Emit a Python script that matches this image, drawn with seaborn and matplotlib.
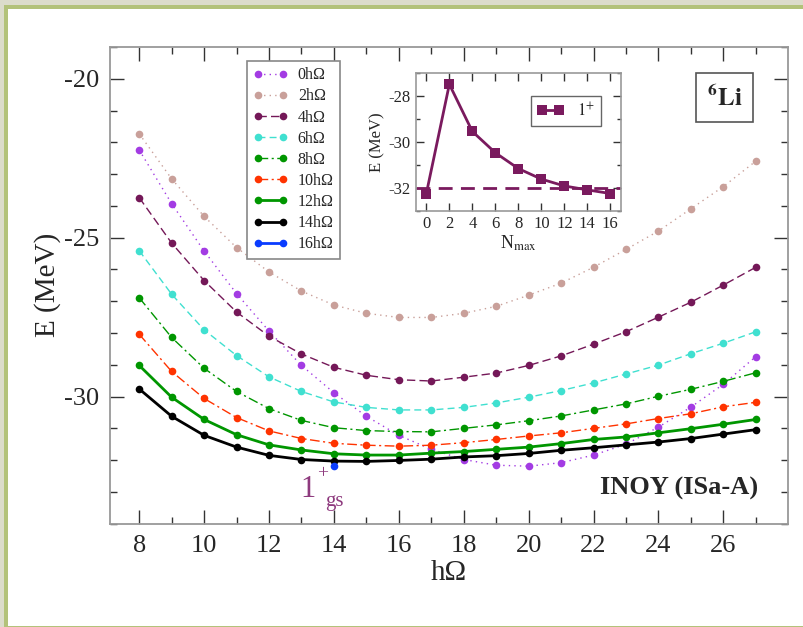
import numpy as np
import pandas as pd
import matplotlib
matplotlib.use("Agg")
import matplotlib.pyplot as plt
import seaborn as sns
from matplotlib.patches import Rectangle
from matplotlib.ticker import MultipleLocator, FixedLocator

# ---------------- data ----------------
hw = [8, 9, 10, 11, 12, 13, 14, 15, 16, 17, 18, 19, 20, 21, 22, 23, 24, 25, 26, 27]

e_0 = [-22.24, -23.93, -25.42, -26.76, -27.94, -29.02, -29.88, -30.62, -31.22, -31.66,
       -31.98, -32.16, -32.19, -32.08, -31.84, -31.50, -30.96, -30.33, -29.61, -28.74]
e_2 = [-21.73, -23.15, -24.33, -25.31, -26.08, -26.68, -27.12, -27.38, -27.51, -27.51,
       -27.38, -27.16, -26.81, -26.43, -25.93, -25.37, -24.79, -24.09, -23.39, -22.59]
e_4 = [-23.74, -25.17, -26.35, -27.34, -28.10, -28.66, -29.08, -29.33, -29.47, -29.51,
       -29.39, -29.26, -29.02, -28.72, -28.35, -27.96, -27.50, -27.03, -26.49, -25.93]
e_6 = [-25.41, -26.78, -27.90, -28.71, -29.38, -29.84, -30.17, -30.34, -30.42, -30.42,
       -30.34, -30.20, -30.02, -29.81, -29.57, -29.29, -29.01, -28.65, -28.32, -27.96]
e_8 = [-26.89, -28.14, -29.11, -29.84, -30.38, -30.75, -30.98, -31.07, -31.10, -31.11,
       -31.00, -30.89, -30.76, -30.61, -30.42, -30.23, -29.99, -29.77, -29.52, -29.25]
e_10 = [-28.04, -29.21, -30.06, -30.66, -31.08, -31.32, -31.47, -31.53, -31.56, -31.53,
        -31.45, -31.35, -31.24, -31.14, -31.00, -30.86, -30.69, -30.54, -30.32, -30.18]
e_12 = [-29.02, -30.02, -30.72, -31.20, -31.52, -31.68, -31.80, -31.84, -31.84, -31.78,
        -31.73, -31.66, -31.59, -31.48, -31.35, -31.27, -31.14, -31.01, -30.87, -30.72]
e_14 = [-29.76, -30.62, -31.22, -31.59, -31.85, -31.98, -32.03, -32.04, -32.01, -31.97,
        -31.90, -31.86, -31.79, -31.69, -31.61, -31.52, -31.43, -31.32, -31.18, -31.04]
hw_16 = [14]
e_16 = [-32.19]

series_labels = ["0hΩ", "2hΩ", "4hΩ", "6hΩ", "8hΩ", "10hΩ", "12hΩ", "14hΩ", "16hΩ"]
x_ticks = [8, 10, 12, 14, 16, 18, 20, 22, 24, 26]

nmax = [0, 2, 4, 6, 8, 10, 12, 14, 16]
e_gs = [-32.25, -27.48, -29.54, -30.47, -31.16, -31.62, -31.92, -32.09, -32.25]
e_extrap = -32.0

# ---------------- style ----------------
sns.set_style("ticks")
plt.rcParams["font.family"] = ["Liberation Serif", "DejaVu Serif"]
plt.rcParams["mathtext.fontset"] = "stix"
plt.rcParams["axes.unicode_minus"] = False

W, H = 804, 627
fig = plt.figure(figsize=(W / 100, H / 100), dpi=100)
fig.patch.set_facecolor("#dcdccb")
fig.patches.append(Rectangle((4 / W, 0), 1, 1 - 5 / H, transform=fig.transFigure,
                             facecolor="#b3c27a", edgecolor="none", zorder=-10))
fig.patches.append(Rectangle((8 / W, 1 / H), 1, 1 - 10 / H, transform=fig.transFigure,
                             facecolor="white", edgecolor="none", zorder=-9))

ax = fig.add_axes([110 / W, 1 - 523.7 / H, (788.3 - 110) / W, (523.7 - 47) / H])
ax.set_facecolor("white")

styles = [
    (e_0, "#a33ce3", (0, (1, 3)), 1.0),
    (e_2, "#c9a09a", (0, (1, 3)), 1.0),
    (e_4, "#741858", (0, (6, 3)), 1.0),
    (e_6, "#40e0d0", (0, (5, 3)), 1.0),
    (e_8, "#009600", (0, (7, 2.5, 1.5, 2.5)), 1.0),
    (e_10, "#ff3300", (0, (7, 2.5, 1.5, 2.5)), 1.0),
    (e_12, "#009600", "-", 2.0),
]
for (vals, col, ls, lw), lab in zip(styles, series_labels[:7]):
    sns.lineplot(x=hw, y=vals, ax=ax, color=col, linestyle=ls, linewidth=lw,
                 marker="o", markersize=5.5, markeredgewidth=0, label=lab)
sns.lineplot(x=hw, y=e_14, ax=ax, color="black", linestyle="-", linewidth=2.0,
             marker="o", markersize=5.5, markeredgewidth=0, label=series_labels[7])
sns.lineplot(x=hw_16, y=e_16, ax=ax, color="#0a3cff", linestyle="-", linewidth=2.0,
             marker="o", markersize=5.5, markeredgewidth=0, label=series_labels[8])

ax.set_xlim(7.1, 28.0)
ax.set_ylim(-34.0, -19.0)
ax.xaxis.set_major_locator(FixedLocator(x_ticks))
ax.xaxis.set_minor_locator(FixedLocator([t + 1 for t in x_ticks]))
ax.yaxis.set_major_locator(MultipleLocator(5))
ax.yaxis.set_minor_locator(MultipleLocator(1))
ax.tick_params(which="both", direction="in", top=True, right=True, color="#333333",
               width=1.0, labelsize=19, pad=8)
ax.tick_params(which="major", length=10)
ax.tick_params(which="minor", length=5)
for s in ax.spines.values():
    s.set_color("#999999")
    s.set_linewidth(1.3)
ax.set_xlabel("hΩ", fontsize=21, labelpad=2)
ax.set_ylabel("E (MeV)", fontsize=21, labelpad=2)

leg = ax.legend(loc="upper left", bbox_to_anchor=(246.7 / W, 1 - 61 / H),
                bbox_transform=fig.transFigure, fontsize=11.5, numpoints=2,
                handlelength=2.2, handletextpad=0.6, labelspacing=0.32,
                borderpad=0.4, borderaxespad=0, fancybox=False, framealpha=1,
                edgecolor="#888888")
leg.get_frame().set_linewidth(1.2)

fig.text(600 / W, 1 - 488 / H, "INOY (ISa-A)", fontsize=19, fontweight="bold",
         ha="left", va="center")
gs_col = "#8e3a7e"
fig.text(300 / W, 1 - 497 / H, "1", fontsize=22, color=gs_col, ha="left", va="baseline")
fig.text(317 / W, 1 - 474 / H, "+", fontsize=14, color=gs_col, ha="left", va="center")
fig.text(325 / W, 1 - 506 / H, "gs", fontsize=15, color=gs_col, ha="left", va="baseline")
fig.text(724.5 / W, 1 - 97.5 / H, r"$\mathbf{{}^{6}Li}$", fontsize=18,
         ha="center", va="center",
         bbox=dict(boxstyle="square,pad=0.45", facecolor="white", edgecolor="#555555",
                   linewidth=1.2))

# ---------------- inset ----------------
ins = fig.add_axes([416 / W, 1 - 210.7 / H, (620.7 - 416) / W, (210.7 - 73.3) / H])
ins.set_facecolor("white")
maroon = "#7a1a5e"
ins.axhline(e_extrap, color=maroon, linestyle=(0, (5, 3)), linewidth=2.0)
sns.lineplot(x=nmax, y=e_gs, ax=ins, color=maroon, linewidth=2.0, marker="s",
             markersize=6.5, markeredgewidth=0, label=r"$1^{+}$")
ins.set_xlim(-0.9, 16.9)
ins.set_ylim(-33.0, -27.0)
ins.xaxis.set_major_locator(MultipleLocator(2))
ins.yaxis.set_major_locator(MultipleLocator(2))
ins.yaxis.set_minor_locator(MultipleLocator(1))
ins.tick_params(which="both", direction="in", top=True, right=True, color="#333333",
                width=1.0, labelsize=12, pad=4)
ins.tick_params(which="major", length=6)
ins.tick_params(which="minor", length=3)
for s in ins.spines.values():
    s.set_color("#999999")
    s.set_linewidth(1.2)
ins.set_xlabel(r"N$_{\mathrm{max}}$", fontsize=13, labelpad=1)
ins.set_ylabel("E (MeV)", fontsize=12, labelpad=2)
il = ins.legend(loc="upper right", bbox_to_anchor=(600.7 / W, 1 - 95.7 / H),
                bbox_transform=fig.transFigure, fontsize=12, numpoints=2,
                handlelength=1.6, handletextpad=0.8, borderpad=0.35, borderaxespad=0,
                fancybox=False, framealpha=1, edgecolor="#666666")
il.get_frame().set_linewidth(1.0)

fig.savefig("out.png", dpi=100, facecolor=fig.get_facecolor())
